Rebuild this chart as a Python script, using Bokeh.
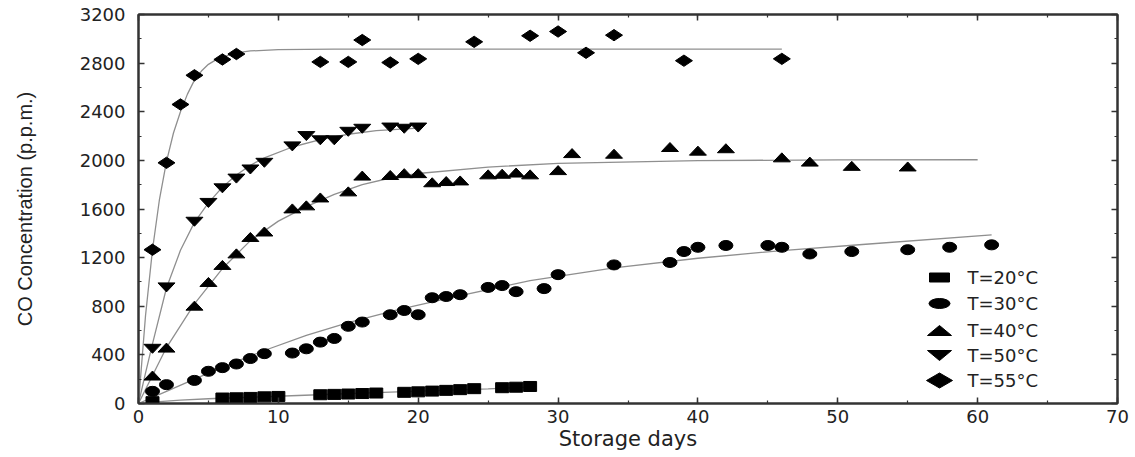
import numpy as np
from bokeh.plotting import figure
from bokeh.models import Range1d, LinearAxis, SingleIntervalTicker
from bokeh.embed import file_html
from bokeh.resources import INLINE
from bokeh.core.properties import value

# ---------------- data ----------------
days_20 = [1, 6, 7, 8, 9, 10, 13, 14, 15, 16, 17, 19, 20, 21, 22, 23, 24, 26, 27, 28]
co_20 = [15, 45, 47, 50, 55, 58, 72, 75, 78, 82, 86, 92, 96, 102, 108, 114, 122, 130, 134, 140]

days_30 = [1, 2, 4, 5, 6, 7, 8, 9, 11, 12, 13, 14, 15, 16, 18, 19, 20, 21, 22, 23,
           25, 26, 27, 29, 30, 34, 38, 39, 40, 42, 45, 46, 48, 51, 55, 58, 61]
co_30 = [100, 155, 190, 265, 295, 325, 370, 410, 415, 450, 505, 535, 635, 670, 730, 765, 730, 870, 880, 895,
         955, 970, 920, 945, 1060, 1140, 1160, 1250, 1285, 1300, 1300, 1285, 1230, 1250, 1265, 1285, 1305]

days_40 = [1, 2, 4, 5, 6, 7, 8, 9, 11, 12, 13, 15, 16, 18, 19, 20, 21, 22, 23, 25, 26, 27, 28,
           30, 31, 34, 38, 40, 42, 46, 48, 51, 55]
co_40 = [230, 460, 805, 1000, 1140, 1235, 1370, 1415, 1605, 1630, 1695, 1745, 1875, 1880, 1895, 1895,
         1820, 1830, 1835, 1885, 1890, 1900, 1885, 1920, 2060, 2055, 2110, 2080, 2100, 2025, 1990, 1955, 1950]

days_50 = [1, 2, 4, 5, 6, 7, 8, 9, 11, 12, 13, 14, 15, 16, 18, 19, 20]
co_50 = [450, 955, 1495, 1650, 1770, 1850, 1925, 1980, 2115, 2200, 2165, 2165, 2235, 2260, 2270, 2260, 2270]

days_55 = [1, 2, 3, 4, 6, 7, 13, 15, 16, 18, 20, 24, 28, 30, 32, 34, 39, 46]
co_55 = [1265, 1980, 2460, 2700, 2830, 2875, 2810, 2810, 2990, 2805, 2835, 2975, 3025, 3060, 2885, 3030, 2820, 2835]

# fitted curves, points read along the grey lines of the reference
fit20_x = [0, 1, 3, 5, 11.4, 18, 25, 28]
fit20_y = [0, 12, 28, 39, 66, 93, 121, 135]
fit30_x = [0, 1, 2, 4, 6, 9, 12, 15, 18.5, 23, 28, 34, 40, 46, 52, 61]
fit30_y = [0, 50, 100, 200, 300, 436, 560, 665, 770, 888, 1010, 1116, 1195, 1258, 1310, 1387]
fit40_x = [0, 1, 2, 4, 6, 8, 10, 12, 14, 16, 18, 20, 25, 30, 40, 50, 60]
fit40_y = [0, 230, 460, 820, 1110, 1340, 1500, 1620, 1720, 1800, 1855, 1892, 1945, 1975, 1998, 2004, 2005]
fit50_x = [0, 0.5, 1, 2, 3, 4, 5, 6, 7, 8, 9, 11, 13, 15, 17, 20]
fit50_y = [0, 250, 490, 950, 1260, 1490, 1650, 1780, 1880, 1960, 2020, 2110, 2170, 2215, 2245, 2265]
fit55_x = [0, 0.5, 1, 1.5, 2, 2.5, 3, 3.5, 4, 4.5, 5, 5.5, 6, 7, 8, 10, 14, 46]
fit55_y = [0, 720, 1265, 1680, 1990, 2225, 2400, 2545, 2660, 2735, 2790, 2825, 2850, 2885, 2900, 2911, 2915, 2915]

labels = ["T=20°C", "T=30°C", "T=40°C", "T=50°C", "T=55°C"]
x_tick_values = list(range(0, 71, 10))
y_tick_values = list(range(0, 3201, 400))

# ---------------- layout constants ----------------
FRAME_W, FRAME_H = 979, 389
X_MAX, Y_MAX = 70, 3200
AX = "#333333"
TEXT = "#222222"
LINE = "#8f8f8f"

p = figure(frame_width=FRAME_W, frame_height=FRAME_H, output_backend="svg", toolbar_location=None,
           x_range=Range1d(0, X_MAX), y_range=Range1d(0, Y_MAX),
           min_border_left=138, min_border_right=16, min_border_top=14, min_border_bottom=53,
           x_axis_label="Storage days", y_axis_label="CO Concentration (p.p.m.)")
p.grid.visible = False
p.background_fill_color = "white"
p.border_fill_color = "white"
p.outline_line_color = AX
p.outline_line_width = 2

bottom_ax = p.below[0]
left_ax = p.left[0]

xt = SingleIntervalTicker(interval=10, num_minor_ticks=2)
yt = SingleIntervalTicker(interval=400, num_minor_ticks=2)
bottom_ax.ticker = xt
left_ax.ticker = yt

top_ax = LinearAxis(ticker=xt, major_label_standoff=0,
                    major_label_overrides={v: "" for v in x_tick_values})
right_ax = LinearAxis(ticker=yt, major_label_standoff=0,
                      major_label_overrides={v: "" for v in y_tick_values})
p.add_layout(top_ax, "above")
p.add_layout(right_ax, "right")

for ax in [bottom_ax, left_ax, top_ax, right_ax]:
    ax.major_tick_in = 6
    ax.major_tick_out = 0
    ax.minor_tick_in = 3
    ax.minor_tick_out = 0
    ax.axis_line_color = AX
    ax.axis_line_width = 2
    ax.major_tick_line_color = AX
    ax.major_tick_line_width = 1.5
    ax.minor_tick_line_color = AX
    ax.minor_tick_line_width = 1.2
    ax.major_label_text_font = "DejaVu Sans"
    ax.major_label_text_color = TEXT

bottom_ax.major_label_text_font_size = "18px"
bottom_ax.major_label_standoff = 6
bottom_ax.axis_label_text_font = "DejaVu Sans"
bottom_ax.axis_label_text_font_size = "21px"
bottom_ax.axis_label_text_font_style = "normal"
bottom_ax.axis_label_text_color = TEXT
bottom_ax.axis_label_standoff = 1

left_ax.major_label_text_font_size = "18px"
left_ax.major_label_standoff = 13
left_ax.axis_label_text_font = "Liberation Sans"
left_ax.axis_label_text_font_size = "20px"
left_ax.axis_label_text_font_style = "normal"
left_ax.axis_label_text_color = TEXT
left_ax.axis_label_standoff = 41

# ---------------- fitted lines ----------------
for fx, fy in [(fit20_x, fit20_y), (fit30_x, fit30_y), (fit40_x, fit40_y),
               (fit50_x, fit50_y), (fit55_x, fit55_y)]:
    p.line(fx, fy, line_color=LINE, line_width=1.3)

# ---------------- markers ----------------
# data units per screen pixel (used to give the flat triangles a fixed pixel size)
DX = X_MAX / FRAME_W
DY = Y_MAX / FRAME_H
TRI_W, TRI_H = 17, 9  # px


def tri_patches(xs, ys, up=True):
    hx = TRI_W / 2 * DX
    hy = TRI_H / 2 * DY
    pxs, pys = [], []
    for x, y in zip(xs, ys):
        pxs.append([x - hx, x + hx, x])
        if up:
            pys.append([y - hy, y - hy, y + hy])
        else:
            pys.append([y + hy, y + hy, y - hy])
    return pxs, pys


p.rect(x=days_20, y=co_20, width=13, height=10, width_units="screen", height_units="screen",
       fill_color="black", line_color="black")
p.ellipse(x=days_30, y=co_30, width=14, height=10, width_units="screen", height_units="screen",
          fill_color="black", line_color="black")
t40x, t40y = tri_patches(days_40, co_40, up=True)
p.patches(t40x, t40y, fill_color="black", line_color="black")
t50x, t50y = tri_patches(days_50, co_50, up=False)
p.patches(t50x, t50y, fill_color="black", line_color="black")
p.scatter(days_55, co_55, marker="diamond", size=17, angle=np.pi / 2,
          fill_color="black", line_color="black")

# ---------------- legend (drawn in frame pixel coordinates) ----------------
p.extra_x_ranges = {"px": Range1d(0, FRAME_W)}
p.extra_y_ranges = {"py": Range1d(0, FRAME_H)}
LEG_X = 801          # marker centre, px from frame left
LEG_TX = 829         # text start
LEG_Y = [126, 100, 73, 48, 23]  # row centres, px from frame bottom
kw = dict(x_range_name="px", y_range_name="py", fill_color="black", line_color="black")

p.rect(x=[LEG_X], y=[LEG_Y[0]], width=20, height=9, **kw)
p.ellipse(x=[LEG_X], y=[LEG_Y[1]], width=21, height=10, **kw)
p.patches([[LEG_X - 12, LEG_X + 12, LEG_X]], [[LEG_Y[2] - 5, LEG_Y[2] - 5, LEG_Y[2] + 5]], **kw)
p.patches([[LEG_X - 12, LEG_X + 12, LEG_X]], [[LEG_Y[3] + 5, LEG_Y[3] + 5, LEG_Y[3] - 5]], **kw)
p.patches([[LEG_X - 13, LEG_X, LEG_X + 13, LEG_X]],
          [[LEG_Y[4], LEG_Y[4] + 7.5, LEG_Y[4], LEG_Y[4] - 7.5]], **kw)
p.text(x=[LEG_TX] * 5, y=LEG_Y, text=labels, x_range_name="px", y_range_name="py",
       text_font=value("DejaVu Sans"), text_font_size=value("18px"),
       text_baseline="middle", text_align="left", text_color=TEXT)

open("out.html", "w").write(file_html(p, INLINE))
